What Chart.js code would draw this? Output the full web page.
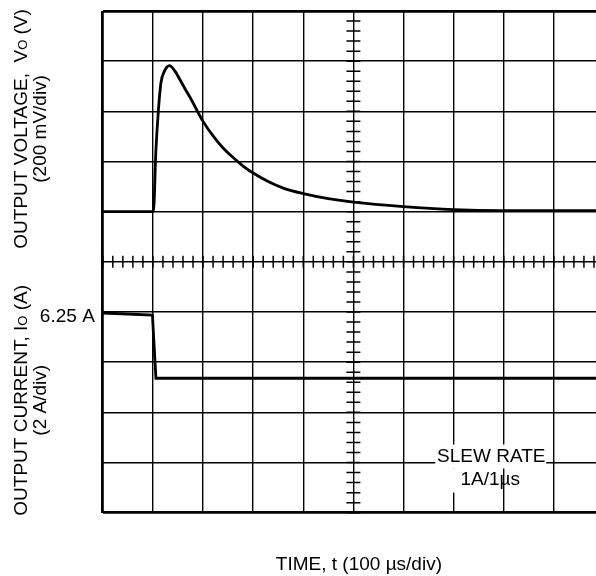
<!DOCTYPE html>
<html>
<head>
<meta charset="utf-8">
<script src="https://cdn.jsdelivr.net/npm/chart.js@4"></script>
<style>
  html, body { margin: 0; padding: 0; background: #fff; }
  #wrap { width: 596px; height: 576px; overflow: hidden; position: relative; }
  #scope { display: block; }
</style>
</head>
<body>
<div id="wrap"><canvas id="scope" width="610" height="576"></canvas></div>
<script>
// scope screen, 10 x 10 divisions
const divTicks = [0, 1, 2, 3, 4, 5, 6, 7, 8, 9, 10];

// output voltage trace (divisions, 200 mV/div)
const voltTime = [0, 1.01, 1.06, 1.11, 1.16, 1.23, 1.33, 1.44, 1.54, 1.64, 1.74, 2.0, 2.2, 2.4, 2.6, 2.8, 3.0, 3.3, 3.6, 4.0, 4.5, 5.0, 6.0, 7.0, 7.94, 10];
const voltDiv  = [6.0, 6.0, 7.23, 8.03, 8.57, 8.80, 8.91, 8.80, 8.63, 8.45, 8.28, 7.80, 7.51, 7.27, 7.08, 6.91, 6.77, 6.60, 6.47, 6.36, 6.26, 6.19, 6.10, 6.04, 6.02, 6.02];

// output current trace (divisions, 2 A/div)
const currTime = [0, 0.99, 1.06, 10];
const currDiv  = [3.98, 3.94, 2.68, 2.68];

const FONT = '"Liberation Sans", Arial, Helvetica, sans-serif';
const SIZE = 19;

function toPoints(xs, ys) {
    return xs.map((x, i) => ({ x: x, y: ys[i] }));
}

// draws text made of runs with different sizes, centred on cx
function drawRuns(ctx, runs, cx, base) {
    let total = 0;
    runs.forEach((r) => {
        ctx.font = r.size + 'px ' + FONT;
        r.w = ctx.measureText(r.t).width;
        total += r.w;
    });
    let x = cx - total / 2;
    ctx.textAlign = 'left';
    runs.forEach((r) => {
        ctx.font = r.size + 'px ' + FONT;
        ctx.fillText(r.t, x, base);
        x += r.w;
    });
}

const scopeMarks = {
    id: 'scopeMarks',
    beforeDatasetsDraw(chart) {
        const { ctx, scales: { x, y } } = chart;
        const cx = x.getPixelForValue(5);
        const cy = y.getPixelForValue(5);
        ctx.save();
        ctx.strokeStyle = '#000';
        ctx.lineWidth = 1.5;
        ctx.beginPath();
        for (let i = 0; i <= 50; i++) {
            const v = i / 5;
            const py = y.getPixelForValue(v);
            ctx.moveTo(cx - 7, py);
            ctx.lineTo(cx + 7, py);
            const px = x.getPixelForValue(v);
            ctx.moveTo(px, cy - 6);
            ctx.lineTo(px, cy + 6);
        }
        ctx.stroke();

        // slew rate note, blanks the grid behind it
        const nx = x.getPixelForValue(7.75);
        const ny = y.getPixelForValue(1.0);
        ctx.fillStyle = '#fff';
        ctx.fillRect(nx - 56, ny - 18, 111, 24);
        ctx.fillRect(nx - 41, ny + 6, 48, 24);
        ctx.fillStyle = '#000';
        ctx.textAlign = 'center';
        ctx.textBaseline = 'alphabetic';
        ctx.font = SIZE + 'px ' + FONT;
        ctx.fillText('SLEW RATE', nx, ny - 1);
        ctx.fillText('1A/1\u00b5s', nx - 1, ny + 22.5);
        ctx.restore();
    },
    afterDraw(chart) {
        const { ctx, chartArea, scales: { x, y } } = chart;
        ctx.save();
        ctx.fillStyle = '#000';
        ctx.textBaseline = 'alphabetic';

        // time axis title
        ctx.textAlign = 'center';
        ctx.font = SIZE + 'px ' + FONT;
        ctx.fillText('TIME, t (100 \u00b5s/div)', x.getPixelForValue(5.11), chartArea.bottom + 57);

        // current level label
        ctx.textAlign = 'right';
        ctx.fillText('6.25 A', chartArea.left - 8, y.getPixelForValue(currDiv[0]) + 9);

        // rotated titles
        const titles = [
            { c: y.getPixelForValue(7.65), l1: [{ t: 'OUTPUT VOLTAGE,  V', size: SIZE }, { t: 'O', size: 13 }, { t: ' (V)', size: SIZE }], l2: '(200 mV/div)' },
            { c: y.getPixelForValue(2.24), l1: [{ t: 'OUTPUT CURRENT, I', size: SIZE }, { t: 'O', size: 13 }, { t: ' (A)', size: SIZE }], l2: '(2 A/div)' }
        ];
        titles.forEach((tt) => {
            ctx.save();
            ctx.translate(0, tt.c);
            ctx.rotate(-Math.PI / 2);
            drawRuns(ctx, tt.l1, 0, 26.5);
            ctx.textAlign = 'center';
            ctx.font = SIZE + 'px ' + FONT;
            ctx.fillText(tt.l2, 0, 46);
            ctx.restore();
        });
        ctx.restore();
    }
};

function gridWidth(c) {
    const v = c.tick ? c.tick.value : -1;
    return (v === 0 || v === 10) ? 2.8 : 1.4;
}

new Chart(document.getElementById('scope'), {
    type: 'line',
    data: {
        datasets: [
            {
                data: toPoints(voltTime, voltDiv),
                borderColor: '#000',
                borderWidth: 2.8,
                cubicInterpolationMode: 'monotone',
                pointRadius: 0,
                fill: false
            },
            {
                data: toPoints(currTime, currDiv),
                borderColor: '#000',
                borderWidth: 2.8,
                tension: 0,
                pointRadius: 0,
                fill: false
            }
        ]
    },
    options: {
        responsive: false,
        animation: false,
        layout: { padding: { left: 102.8, top: 11, right: 6, bottom: 63.3 } },
        plugins: { legend: { display: false }, tooltip: { enabled: false } },
        scales: {
            x: {
                type: 'linear',
                min: 0,
                max: 10,
                afterBuildTicks: (s) => { s.ticks = divTicks.map((v) => ({ value: v })); },
                ticks: { display: false },
                border: { display: false },
                grid: { color: '#000', lineWidth: gridWidth, drawTicks: false }
            },
            y: {
                type: 'linear',
                min: 0,
                max: 10,
                afterBuildTicks: (s) => { s.ticks = divTicks.map((v) => ({ value: v })); },
                ticks: { display: false },
                border: { display: false },
                grid: { color: '#000', lineWidth: gridWidth, drawTicks: false }
            }
        }
    },
    plugins: [scopeMarks]
});
</script>
</body>
</html>
